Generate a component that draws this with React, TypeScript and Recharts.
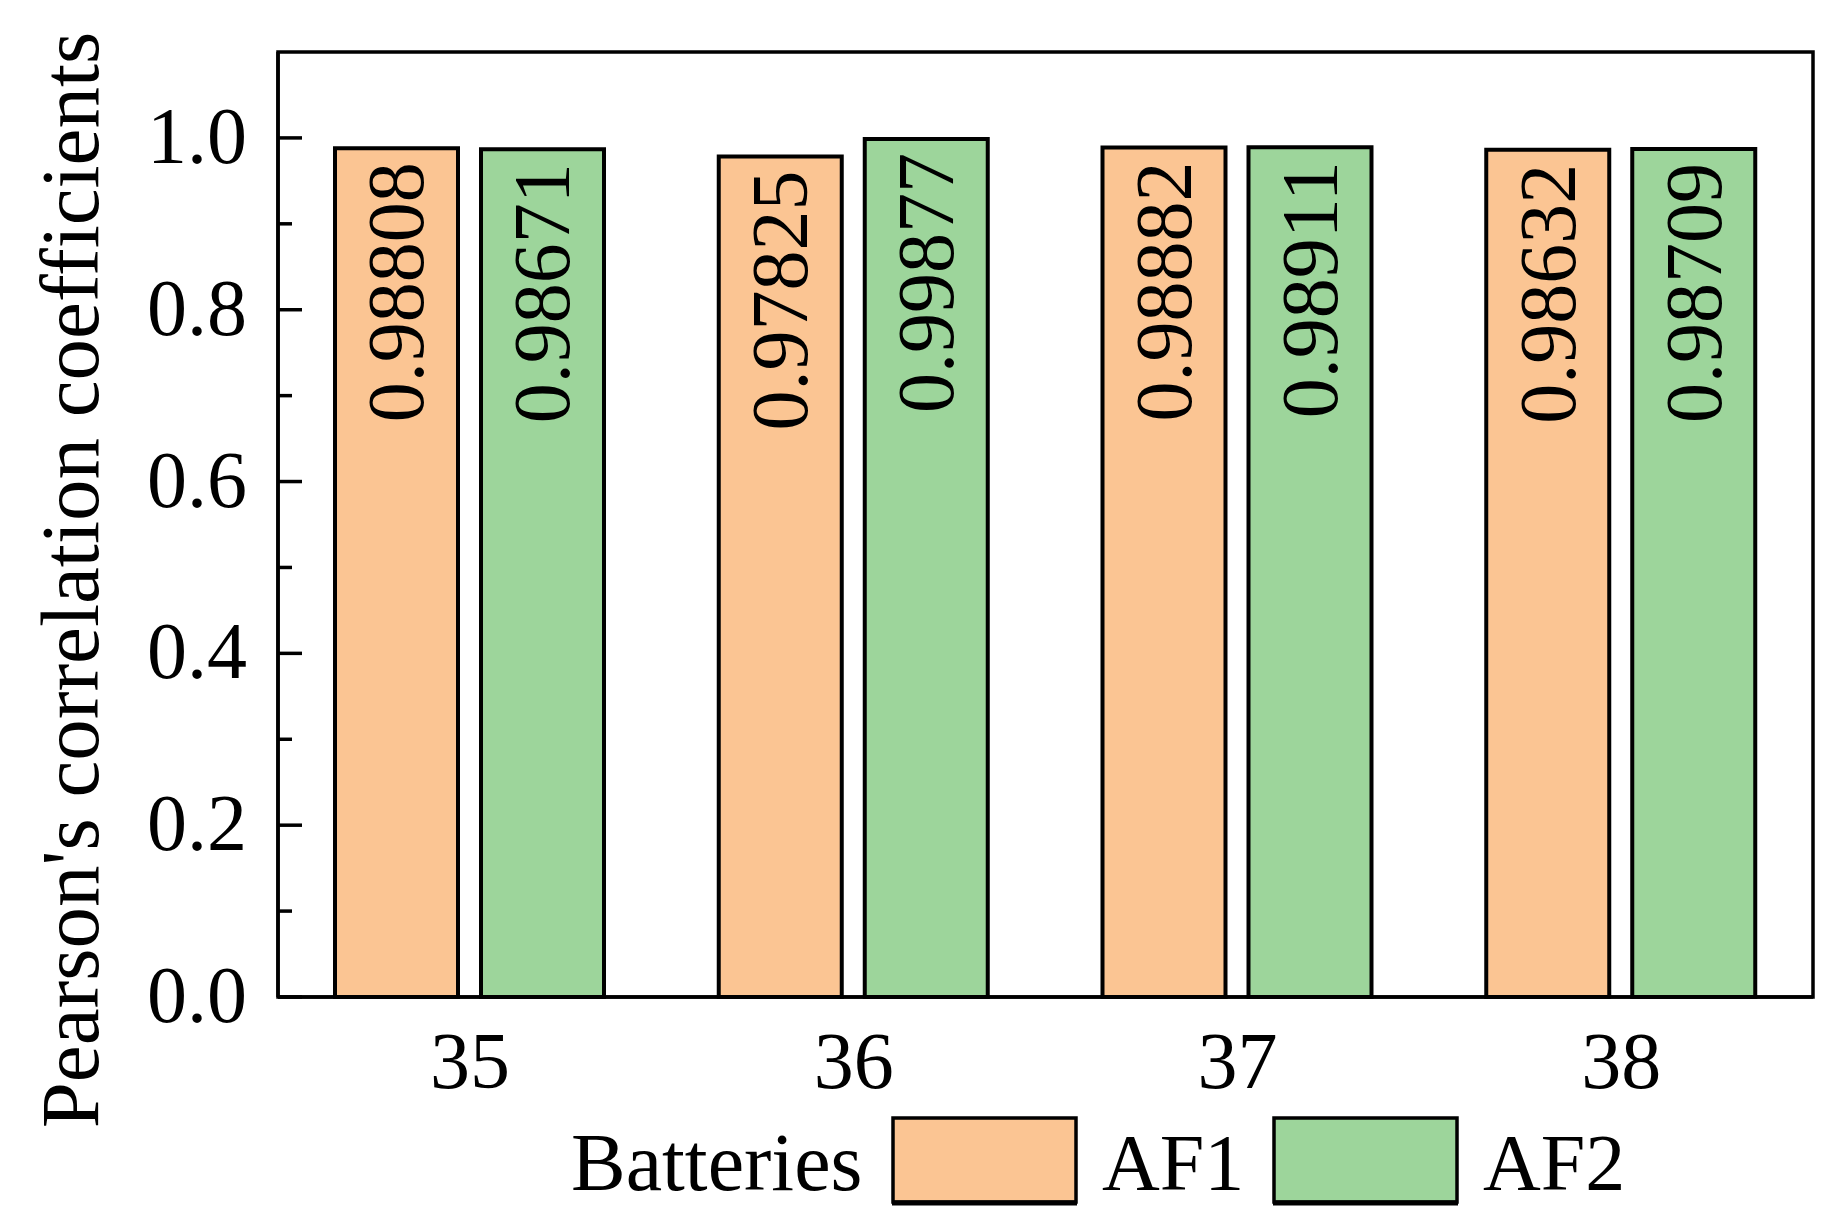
import { BarChart, Bar, XAxis, YAxis, LabelList, ReferenceArea } from "recharts"

const batteries = ["35", "36", "37", "38"]
const af1Values = [0.98808, 0.97825, 0.98882, 0.98632]
const af2Values = [0.98671, 0.99877, 0.98911, 0.98709]
const yTicks = [0, 0.1, 0.2, 0.3, 0.4, 0.5, 0.6, 0.7, 0.8, 0.9, 1.0]
const seriesNames = ["AF1", "AF2"]

const COLORS: Record<string, string> = { AF1: "#FBC593", AF2: "#9DD59B" }
const FONT = "'Liberation Serif', 'Times New Roman', serif"

const data = batteries.map((b, i) => ({ battery: b, AF1: af1Values[i], AF2: af2Values[i] }))

function YTick(props: any) {
  const { x, y, payload } = props
  const major = Math.round(payload.value * 10) % 2 === 0
  return (
    <g>
      <line x1={x} x2={x + (major ? 24 : 14)} y1={y} y2={y} stroke="#000" strokeWidth={3.5} />
      {major && (
        <text x={x - 31} y={y - 2} textAnchor="end" dominantBaseline="central" fontSize={80} fontFamily={FONT} fill="#000">
          {payload.value.toFixed(1)}
        </text>
      )}
    </g>
  )
}

function XTick(props: any) {
  const { x, y, payload } = props
  return (
    <text x={x} y={y + 91} textAnchor="middle" fontSize={80} fontFamily={FONT} fill="#000">
      {payload.value}
    </text>
  )
}

function ValueLabel(props: any) {
  const { x, y, width, value } = props
  const cx = Number(x) + Number(width) / 2
  const ty = Number(y) + 14
  return (
    <text
      x={cx}
      y={ty}
      transform={`rotate(-90 ${cx} ${ty})`}
      textAnchor="end"
      dominantBaseline="central"
      fontSize={80}
      fontFamily={FONT}
      fill="#000"
    >
      {Number(value).toFixed(5)}
    </text>
  )
}

function YTitle() {
  return (
    <text
      x={90}
      y={572}
      transform="rotate(-90 90 572)"
      textAnchor="middle"
      fontSize={83}
      fontFamily={FONT}
      fill="#000"
    >
      Pearson's correlation coefficients
    </text>
  )
}

// legend positions (container coords)
const legendBoxes = [
  { box: 885, text: 1094 },
  { box: 1266, text: 1475 },
]

export default function App() {
  return (
    <div style={{ position: "relative", width: 1822, height: 1215, background: "#fff" }}>
      <BarChart
        width={1822}
        height={1215}
        data={data}
        margin={{ top: 44, right: 17, left: 0, bottom: 0 }}
        barGap={23}
        barCategoryGap={57}
      >
        <XAxis
          dataKey="battery"
          height={226}
          tickLine={false}
          tickSize={0}
          tickMargin={0}
          axisLine={{ stroke: "#000", strokeWidth: 3.5 }}
          tick={<XTick />}
        />
        <YAxis
          width={270}
          domain={[0, 1.1]}
          ticks={yTicks}
          interval={0}
          tickLine={false}
          tickSize={0}
          tickMargin={0}
          axisLine={{ stroke: "#000", strokeWidth: 3.5 }}
          tick={<YTick />}
          label={{ content: () => <YTitle /> }}
        />
        {seriesNames.map((s) => (
          <Bar key={s} dataKey={s} fill={COLORS[s]} stroke="#000" strokeWidth={4} isAnimationActive={false}>
            <LabelList dataKey={s} content={<ValueLabel />} />
          </Bar>
        ))}
        <ReferenceArea
          x1={batteries[0]}
          x2={batteries[batteries.length - 1]}
          y1={0}
          y2={1.1}
          fill="none"
          fillOpacity={0}
          stroke="#000"
          strokeWidth={3.5}
          ifOverflow="visible"
        />
      </BarChart>
      <svg
        width={1822}
        height={1215}
        style={{ position: "absolute", left: 0, top: 0, pointerEvents: "none" }}
      >
        <text x={563} y={1182} fontSize={82} fontFamily={FONT} fill="#000">
          Batteries
        </text>
        {seriesNames.map((s, i) => (
          <g key={s}>
            <rect x={legendBoxes[i].box} y={1110} width={183} height={84} fill={COLORS[s]} stroke="#000" strokeWidth={3.5} />
            <line x1={legendBoxes[i].box - 1} x2={legendBoxes[i].box + 184} y1={1195} y2={1195} stroke="#000" strokeWidth={5} />
            <text x={legendBoxes[i].text} y={1182} fontSize={80} fontFamily={FONT} fill="#000">
              {s}
            </text>
          </g>
        ))}
      </svg>
    </div>
  )
}
